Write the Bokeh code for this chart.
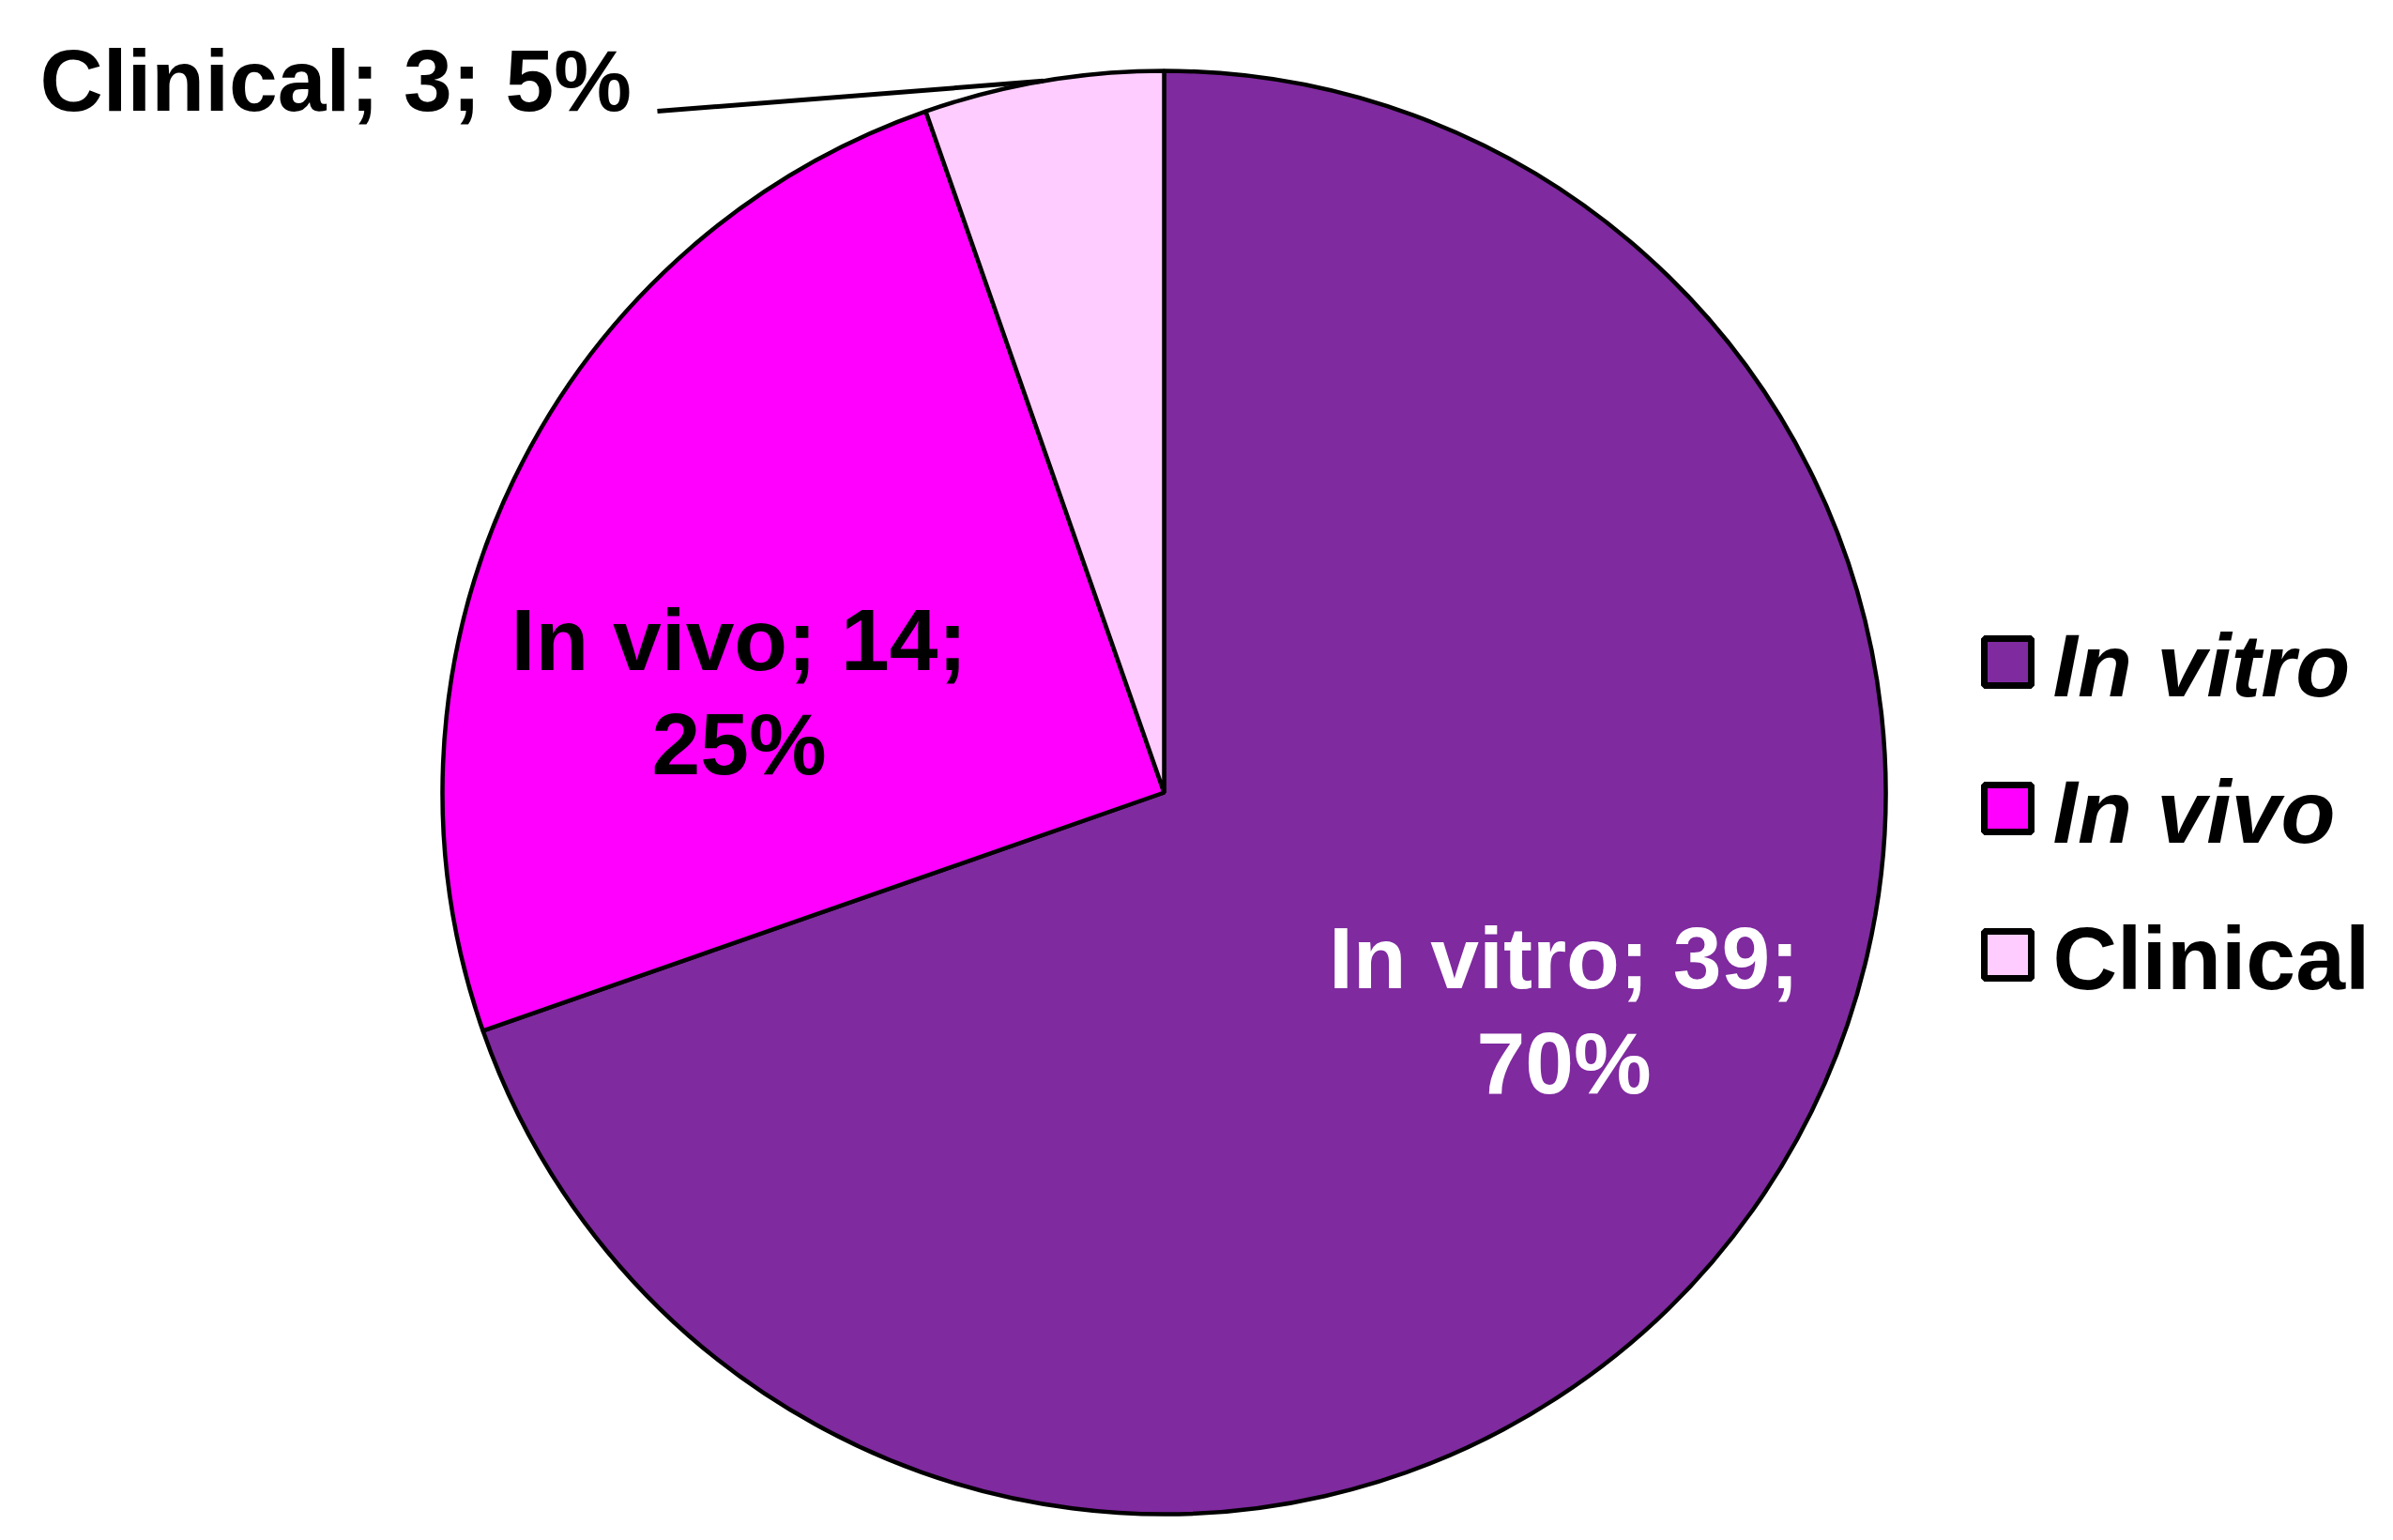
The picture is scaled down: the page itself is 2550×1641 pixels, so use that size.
import numpy as np
from bokeh.plotting import figure
from bokeh.models import ColumnDataSource, Range1d
from bokeh.core.properties import value
from bokeh.embed import file_html
from bokeh.resources import INLINE

# ---- data ----
categories = ["In vitro", "In vivo", "Clinical"]
counts = [39, 14, 3]
colors = ["#7F2A9F", "#FF00FF", "#FFCCFF"]
label_colors = ["white", "black", "black"]
legend_styles = ["bold italic", "bold italic", "bold"]

# ---- layout (page pixels of the reference) ----
W, H = 2534, 1625
TXT_DY = 31  # correction for text baseline placement


def px(X):
    return X


def py(Y):
    return H - Y


def ty(Y):
    return H - Y + TXT_DY


CX, CY, R = px(1240), py(844), 769
FONT = value("Liberation Sans")
FS = "93px"

total = float(sum(counts))
frac = np.array(counts) / total
cum = np.concatenate([[0.0], np.cumsum(frac)])
start = np.pi / 2 - 2 * np.pi * cum[:-1]
end = np.pi / 2 - 2 * np.pi * cum[1:]
mid = (start + end) / 2
pct = [f"{int(round(f * 100))}%" for f in frac]

p = figure(width=W, height=H, x_range=Range1d(0, W), y_range=Range1d(0, H),
           x_axis_type=None, y_axis_type=None, toolbar_location=None,
           output_backend="svg", min_border=0, outline_line_color=None,
           background_fill_color="white", border_fill_color="white")
p.grid.visible = False

src = ColumnDataSource(dict(cat=categories, n=counts, color=colors,
                            start=start, end=end))
p.wedge(x=CX, y=CY, radius=R, start_angle="start", end_angle="end",
        direction="clock", fill_color="color", line_color="black",
        line_width=4.5, source=src)

# data labels inside slices (two lines), positions are layout
inside = {0: (1666, 1051, 1163), 1: (787, 712, 823)}
for i, (X, Y1, Y2) in inside.items():
    p.text(x=[px(X), px(X)], y=[ty(Y1), ty(Y2)],
           text=[f"{categories[i]}; {counts[i]};", pct[i]],
           text_font=FONT, text_font_size=FS, text_font_style="bold",
           text_color=label_colors[i], text_align="center",
           text_baseline="alphabetic")

# outside label for the small slice with a leader line
k = 2
p.text(x=[px(42)], y=[ty(116)], text=[f"{categories[k]}; {counts[k]}; {pct[k]}"],
       text_font=FONT, text_font_size=FS, text_font_style="bold",
       text_color="black", text_align="left", text_baseline="alphabetic")
ex = CX + R * np.cos(mid[k])
ey = CY + R * np.sin(mid[k])
p.line(x=[px(700), ex], y=[py(118), ey], line_color="black", line_width=5)

# legend
LX = px(2139)
leg_y_px = [705, 861, 1017]
p.rect(x=[LX] * 3, y=[py(v) for v in leg_y_px], width=50, height=50,
       fill_color=colors, line_color="black", line_width=7)
leg = ColumnDataSource(dict(x=[px(2187)] * 3, y=[ty(v + 34) for v in leg_y_px],
                            t=categories, s=legend_styles))
p.text(x="x", y="y", text="t", text_font_style="s", source=leg,
       text_font=FONT, text_font_size="95px", text_color="black",
       text_align="left", text_baseline="alphabetic")

open("out.html", "w").write(file_html(p, INLINE))
